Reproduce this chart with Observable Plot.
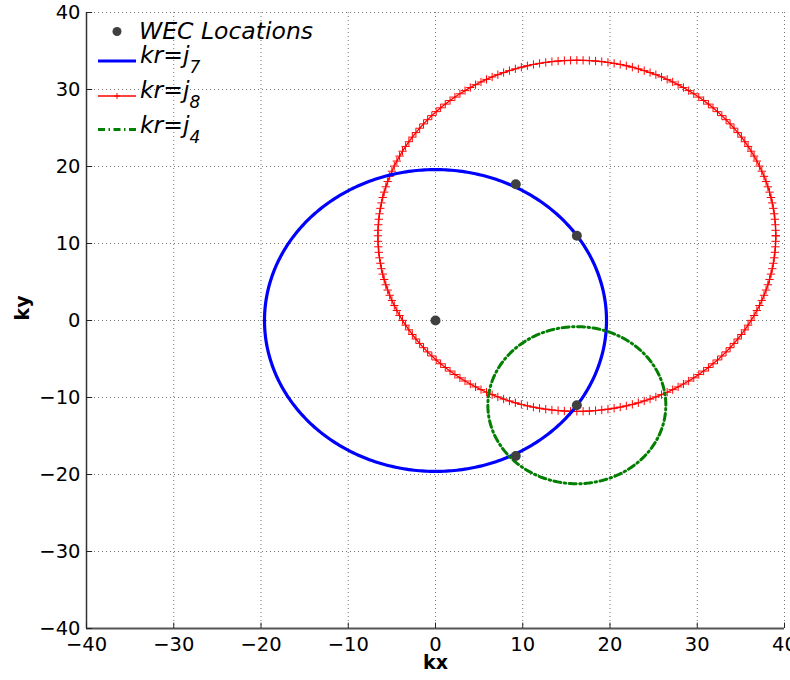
<!DOCTYPE html>
<html>
<head>
<meta charset="utf-8">
<script src="https://cdn.jsdelivr.net/npm/d3@7"></script>
<script src="https://cdn.jsdelivr.net/npm/@observablehq/plot@0.6"></script>
<style>
  body { margin: 0; background: #fff; }
  #wrap { position: relative; width: 790px; height: 680px; overflow: hidden; font-family: "DejaVu Sans", "Liberation Sans", Arial, sans-serif; }
  #legend { position: absolute; left: 0; top: 0; pointer-events: none; }
</style>
</head>
<body>
<div id="wrap"></div>
<script>
// ---- data ----
const wecX = [0, 9.2, 16.2, 16.2, 9.2];
const wecY = [0, 17.7, 11.0, -11.0, -17.6];

const circleNames = ["kr=j7", "kr=j8", "kr=j4"];
const circleCx = [0, 16.2, 16.2];
const circleCy = [0, 11.0, -11.0];
const circleR = [19.6, 22.8, 10.2];
const circleSamples = [400, 200, 400];

const ticks = [-40, -30, -20, -10, 0, 10, 20, 30, 40];

// ---- build tables ----
const wec = wecX.map((x, i) => ({x, y: wecY[i]}));
function ring(k) {
  const n = circleSamples[k];
  return d3.range(n + 1).map(i => {
    const a = (i / n) * 2 * Math.PI;
    return {name: circleNames[k], x: circleCx[k] + circleR[k] * Math.cos(a), y: circleCy[k] + circleR[k] * Math.sin(a)};
  });
}
const blue = ring(0), red = ring(1), green = ring(2);

const font = '"DejaVu Sans", "Liberation Sans", Arial, sans-serif';

const chart = Plot.plot({
  width: 790,
  height: 680,
  marginLeft: 86,
  marginRight: 6,
  marginTop: 12,
  marginBottom: 52,
  style: {fontFamily: font, fontSize: "19.5px", color: "#000", background: "#fff", overflow: "visible"},
  x: {domain: [-40, 40], ticks},
  y: {domain: [-40, 40], ticks},
  marks: [
    Plot.gridX(ticks, {stroke: "#777", strokeOpacity: 1, strokeDasharray: "1,3"}),
    Plot.gridY(ticks, {stroke: "#777", strokeOpacity: 1, strokeDasharray: "1,3"}),
    Plot.ruleX([-40], {stroke: "#333", strokeWidth: 1.5}),
    Plot.ruleY([-40], {stroke: "#555", strokeWidth: 2}),
    Plot.ruleX(ticks, {y1: -40, y2: -39.3, stroke: "#222"}),
    Plot.ruleY(ticks, {x1: -40, x2: -39.3, stroke: "#222"}),
    Plot.axisX(ticks, {tickSize: 0, tickPadding: 9, fontSize: 19.5, fill: "#000", label: null}),
    Plot.axisY(ticks, {tickSize: 0, tickPadding: 6, fontSize: 19.5, fill: "#000", label: null}),
    Plot.text(["kx"], {frameAnchor: "bottom", dy: 40, fontWeight: "bold", fontSize: 19, fill: "#000"}),
    Plot.text(["ky"], {frameAnchor: "left", dx: -64, rotate: -90, fontWeight: "bold", fontSize: 19, fill: "#000"}),
    Plot.line(red, {x: "x", y: "y", stroke: "#ff0000", strokeWidth: 1.3}),
    Plot.dot(red, {x: "x", y: "y", symbol: "plus", r: 2.8, stroke: "#ff0000", strokeWidth: 1}),
    Plot.line(blue, {x: "x", y: "y", stroke: "#0000ff", strokeWidth: 3.2}),
    Plot.line(green, {x: "x", y: "y", stroke: "#007f00", strokeWidth: 3, strokeDasharray: "7,3.5,1.5,3.5"}),
    Plot.dot(wec, {x: "x", y: "y", r: 5, fill: "#404040", stroke: "none"})
  ]
});

const wrap = document.getElementById("wrap");
wrap.appendChild(chart);

// ---- legend overlay ----
const NS = "http://www.w3.org/2000/svg";
const leg = document.createElementNS(NS, "svg");
leg.setAttribute("id", "legend");
leg.setAttribute("width", 340);
leg.setAttribute("height", 150);
leg.innerHTML = `
  <g font-family='${font}' font-style="italic" font-size="23.5" fill="#000">
    <circle cx="117" cy="31.5" r="4.5" fill="#404040"/>
    <text x="139" y="39">WEC Locations</text>
    <line x1="98" x2="136" y1="61" y2="61" stroke="#0000ff" stroke-width="3"/>
    <text x="140" y="63">kr=j<tspan font-size="17" dy="10">7</tspan></text>
    <line x1="98" x2="136" y1="96" y2="96" stroke="#ff0000" stroke-width="1.3"/>
    <path d="M114,96h6M117,93v6" stroke="#ff0000" stroke-width="1"/>
    <text x="140" y="98">kr=j<tspan font-size="17" dy="10">8</tspan></text>
    <line x1="98" x2="136" y1="129.5" y2="129.5" stroke="#007f00" stroke-width="3" stroke-dasharray="7,3.5,1.5,3.5"/>
    <text x="140" y="133">kr=j<tspan font-size="17" dy="10">4</tspan></text>
  </g>`;
wrap.appendChild(leg);
</script>
</body>
</html>
